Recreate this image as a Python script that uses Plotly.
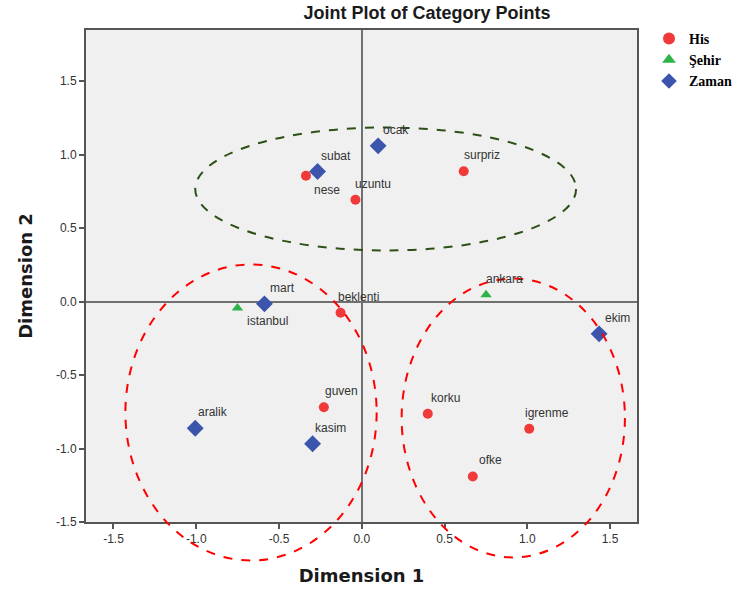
import plotly.graph_objects as go

# ---- data ----
his_labels = ["nese", "uzuntu", "surpriz", "beklenti", "guven", "korku", "igrenme", "ofke"]
his_x = [-0.337, -0.038, 0.616, -0.128, -0.229, 0.399, 1.012, 0.671]
his_y = [0.856, 0.692, 0.886, -0.077, -0.719, -0.764, -0.866, -1.190]

sehir_labels = ["istanbul", "ankara"]
sehir_x = [-0.751, 0.751]
sehir_y = [-0.045, 0.046]

zaman_labels = ["ocak", "subat", "mart", "ekim", "aralik", "kasim"]
zaman_x = [0.099, -0.267, -0.588, 1.434, -1.006, -0.297]
zaman_y = [1.059, 0.884, -0.016, -0.220, -0.862, -0.968]

tick_vals = [-1.5, -1.0, -0.5, 0.0, 0.5, 1.0, 1.5]
tick_text = ["-1.5", "-1.0", "-0.5", "0.0", "0.5", "1.0", "1.5"]

# ellipse groups (x0, x1, y0, y1 in data units)
groups = [
    (-1.006, 1.295, 0.347, 1.184, "#2d5016"),
    (-1.428, 0.090, -1.762, 0.252, "#ff0000"),
    (0.241, 1.590, -1.741, 0.156, "#ff0000"),
]

XR = [-1.666, 1.663]
YR = [-1.5, 1.847]

W, H = 736, 590

fig = go.Figure()

fig.add_trace(go.Scatter(x=his_x, y=his_y, mode="markers", name="<b>His</b>",
                         marker=dict(symbol="circle", size=10, color="#f03a3a")))
fig.add_trace(go.Scatter(x=sehir_x, y=sehir_y, mode="markers", name="<b>Şehir</b>",
                         marker=dict(symbol="triangle-up", size=10, color="#2db34a")))
fig.add_trace(go.Scatter(x=zaman_x, y=zaman_y, mode="markers", name="<b>Zaman</b>",
                         marker=dict(symbol="diamond", size=13, color="#3b55ad")))

# point labels
special = {"nese": (21, -14), "istanbul": (30, -13)}
for labs, xs, ys in [(his_labels, his_x, his_y), (sehir_labels, sehir_x, sehir_y),
                     (zaman_labels, zaman_x, zaman_y)]:
    for lab, xv, yv in zip(labs, xs, ys):
        dx, dy = special.get(lab, (18, 16))
        fig.add_annotation(x=xv, y=yv, text=lab, showarrow=False,
                           xshift=dx, yshift=dy,
                           font=dict(family="Liberation Sans, Arial", size=12, color="#333333"))

def to_paper(v, r):
    return (v - r[0]) / (r[1] - r[0])

for x0, x1, y0, y1, col in groups:
    fig.add_shape(type="circle", xref="paper", yref="paper",
                  x0=to_paper(x0, XR), x1=to_paper(x1, XR),
                  y0=to_paper(y0, YR), y1=to_paper(y1, YR),
                  line=dict(color=col, width=2, dash="dash"), layer="above")

fig.update_layout(
    width=W, height=H,
    margin=dict(l=86, r=99, t=30, b=68, autoexpand=False),
    paper_bgcolor="white", plot_bgcolor="#f0f0f0",
    title=dict(text="<b>Joint Plot of Category Points</b>", x=427/W, xanchor="center",
               y=1 - 13/H, yanchor="middle",
               font=dict(family="Liberation Sans, Arial", size=18, color="#1a1a1a")),
    legend=dict(xref="container", yref="container", x=649/W, y=1 - 23/H,
                xanchor="left", yanchor="top",
                font=dict(family="Liberation Serif, Times New Roman", size=14, color="black"),
                bgcolor="rgba(0,0,0,0)", itemsizing="constant", tracegroupgap=0,
                itemwidth=30),
    showlegend=True,
)

axis_common = dict(
    showgrid=False, zeroline=True, zerolinecolor="#707070", zerolinewidth=2,
    showline=True, mirror=True, linecolor="#555555", linewidth=2,
    ticks="outside", ticklen=5, tickcolor="#555555", tickwidth=1.5,
    tickvals=tick_vals, ticktext=tick_text, automargin=False,
    tickfont=dict(family="Liberation Sans, Arial", size=12, color="#333333"),
)
fig.update_xaxes(range=XR, title=dict(text="<b>Dimension 1</b>", standoff=24,
                 font=dict(family="DejaVu Sans", size=18, color="#1a1a1a")), **axis_common)
fig.update_yaxes(range=YR, title=dict(text="<b>Dimension 2</b>", standoff=19,
                 font=dict(family="DejaVu Sans", size=18, color="#1a1a1a")), **axis_common)

fig.write_html("out.html", config={"displayModeBar": False},
               post_script="document.body.style.margin='0';document.body.style.overflow='hidden';")
